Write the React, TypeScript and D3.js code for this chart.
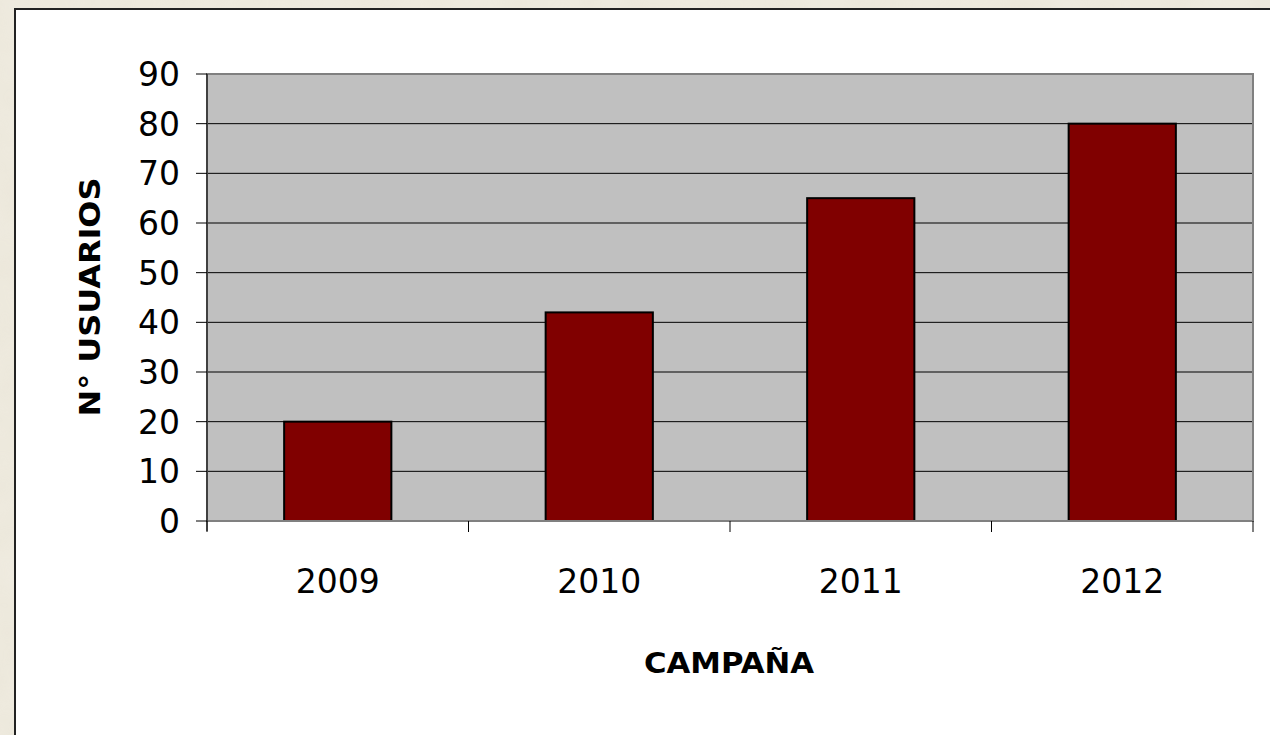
import * as d3 from "d3";

const campaigns = ["2009", "2010", "2011", "2012"];
const usuarios = [20, 42, 65, 80];
const yTicks = [0, 10, 20, 30, 40, 50, 60, 70, 80, 90];

const W = 1270;
const H = 735;
const plot = { left: 207, top: 74, right: 1253, bottom: 521 };

const labelFont = "'DejaVu Sans', Verdana, sans-serif";

export default function App() {
  const x = d3
    .scaleBand<string>()
    .domain(campaigns)
    .range([plot.left, plot.right])
    .paddingInner(0.59)
    .paddingOuter(0.295);

  const y = d3.scaleLinear().domain([0, 90]).range([plot.bottom, plot.top]);

  const step = (plot.right - plot.left) / campaigns.length;
  const boundaries = d3.range(campaigns.length + 1).map((i) => plot.left + i * step);

  return (
    <div style={{ position: "fixed", left: 0, top: 0, width: W, height: H }}>
      <svg width={W} height={H} style={{ display: "block" }}>
        <defs>
          <filter id="paper" x="0" y="0" width="100%" height="100%">
            <feTurbulence type="fractalNoise" baseFrequency="0.02" numOctaves="3" seed="4" />
            <feColorMatrix
              type="matrix"
              values="0 0 0 0 0.93  0 0 0 0 0.91  0 0 0 0 0.85  0 0 0 -0.5 0.75"
            />
          </filter>
        </defs>

        {/* parchment background */}
        <rect x={0} y={0} width={W} height={H} fill="#e9e4d6" />
        <rect x={0} y={0} width={W} height={H} filter="url(#paper)" opacity={0.6} />

        {/* white chart panel */}
        <rect x={15} y={9} width={W + 10} height={H + 10} fill="#ffffff" stroke="#222" strokeWidth={2} />

        {/* plot area */}
        <rect
          x={plot.left}
          y={plot.top}
          width={plot.right - plot.left}
          height={plot.bottom - plot.top}
          fill="#c0c0c0"
        />

        {/* gridlines */}
        {yTicks
          .filter((t) => t > 0 && t < 90)
          .map((t) => (
            <line key={t} x1={plot.left} x2={plot.right} y1={y(t)} y2={y(t)} stroke="#000" strokeWidth={1} />
          ))}

        {/* bars */}
        {campaigns.map((c, i) => (
          <rect
            key={c}
            x={x(c)}
            y={y(usuarios[i])}
            width={x.bandwidth()}
            height={y(0) - y(usuarios[i])}
            fill="#800000"
            stroke="#000"
            strokeWidth={2}
          />
        ))}

        {/* plot border */}
        <rect
          x={plot.left}
          y={plot.top}
          width={plot.right - plot.left}
          height={plot.bottom - plot.top}
          fill="none"
          stroke="#808080"
          strokeWidth={2}
        />
        <line x1={plot.left} x2={plot.left} y1={plot.top} y2={plot.bottom + 10} stroke="#000" strokeWidth={1} />

        {/* y axis ticks and labels */}
        {yTicks.map((t) => (
          <g key={t}>
            <line x1={plot.left - 11} x2={plot.left} y1={y(t)} y2={y(t)} stroke="#000" strokeWidth={1} />
            <text
              x={180}
              y={y(t)}
              dy="0.36em"
              textAnchor="end"
              fontFamily={labelFont}
              fontSize={33}
              fill="#000"
            >
              {t}
            </text>
          </g>
        ))}

        {/* x axis ticks and labels */}
        {boundaries.map((b, i) => (
          <line key={i} x1={b} x2={b} y1={plot.bottom} y2={plot.bottom + 11} stroke="#000" strokeWidth={1} />
        ))}
        {campaigns.map((c) => (
          <text
            key={c}
            x={(x(c) ?? 0) + x.bandwidth() / 2}
            y={593}
            textAnchor="middle"
            fontFamily={labelFont}
            fontSize={33}
            fill="#000"
          >
            {c}
          </text>
        ))}

        {/* axis titles */}
        <text
          x={729}
          y={673}
          textAnchor="middle"
          fontFamily="'Comic Sans MS', 'DejaVu Sans', sans-serif"
          fontWeight="bold"
          fontSize={29}
          textLength={170}
          lengthAdjust="spacingAndGlyphs"
          fill="#000"
        >
          CAMPAÑA
        </text>
        <text
          transform={`translate(100, 297) rotate(-90)`}
          textAnchor="middle"
          fontFamily="'Comic Sans MS', 'DejaVu Sans', sans-serif"
          fontWeight="bold"
          fontSize={29}
          textLength={239}
          lengthAdjust="spacingAndGlyphs"
          fill="#000"
        >
          N° USUARIOS
        </text>
      </svg>
    </div>
  );
}
